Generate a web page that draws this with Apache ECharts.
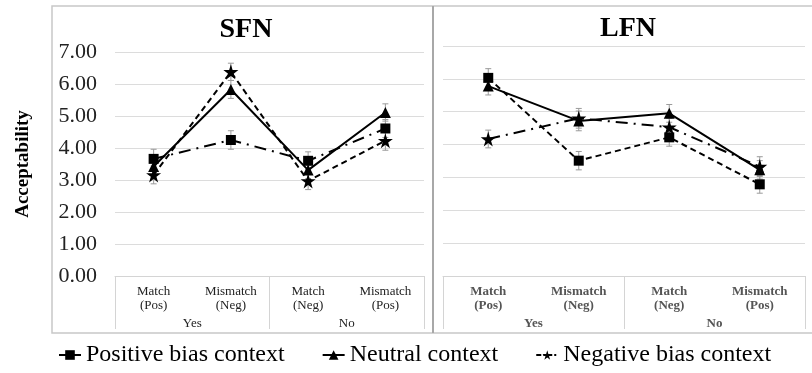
<!DOCTYPE html>
<html>
<head>
<meta charset="utf-8">
<script src="https://cdn.jsdelivr.net/npm/echarts@6/dist/echarts.min.js"></script>
<style>html,body{margin:0;padding:0;background:#fff}#c{width:812px;height:373px}</style>
</head>
<body>
<div id="c"></div>
<script>
const categories = ['Match\n(Pos)', 'Mismatch\n(Neg)', 'Match\n(Neg)', 'Mismatch\n(Pos)'];
const groups = ['Yes', 'No'];
const panelTitles = ['SFN', 'LFN'];
const seriesNames = ['Positive bias context', 'Neutral context', 'Negative bias context'];
const yMin = 0, yMax = 7, yInterval = 1;

const sfnPositive = [3.66, 4.25, 3.60, 4.61];
const sfnNeutral  = [3.42, 5.83, 3.31, 5.11];
const sfnNegative = [3.16, 6.38, 2.97, 4.23];
const lfnPositive = [6.03, 3.51, 4.22, 2.79];
const lfnNeutral  = [5.78, 4.72, 4.95, 3.23];
const lfnNegative = [4.17, 4.80, 4.53, 3.33];

const sfnPositiveErr = [0.30, 0.29, 0.28, 0.28];
const sfnNeutralErr  = [0.28, 0.28, 0.27, 0.27];
const sfnNegativeErr = [0.28, 0.27, 0.27, 0.30];
const lfnPositiveErr = [0.28, 0.28, 0.27, 0.27];
const lfnNeutralErr  = [0.27, 0.30, 0.27, 0.28];
const lfnNegativeErr = [0.27, 0.30, 0.27, 0.30];

const FONT = 'Liberation Serif';
const STAR = 'path://M50,0 L61,35 L98,35 L68,57 L79,91 L50,70 L21,91 L32,57 L2,35 L39,35 Z';
const DASH = [6, 4];
const DASHDOT = [12, 6, 2, 6];

function lineSeries(name, data, gi, symbol, size, type) {
  return {
    type: 'line', name, data, xAxisIndex: gi * 2, yAxisIndex: gi,
    symbol, symbolSize: size, showSymbol: true,
    itemStyle: { color: '#000' },
    lineStyle: { color: '#000', width: 2, type },
    z: 5, animation: false
  };
}
function errSeries(name, vals, errs, gi) {
  return {
    type: 'custom', name, xAxisIndex: gi * 2, yAxisIndex: gi, z: 2, silent: true,
    itemStyle: { color: '#000' },
    data: vals.map((v, i) => [i, v, errs[i]]),
    renderItem: function (params, api) {
      const x = api.value(0), v = api.value(1), e = api.value(2);
      const top = api.coord([x, v + e]);
      const bot = api.coord([x, v - e]);
      const st = { stroke: '#9a9a9a', lineWidth: 1 };
      return { type: 'group', children: [
        { type: 'line', shape: { x1: top[0], y1: top[1], x2: bot[0], y2: bot[1] }, style: st },
        { type: 'line', shape: { x1: top[0] - 3, y1: top[1], x2: top[0] + 3, y2: top[1] }, style: st },
        { type: 'line', shape: { x1: bot[0] - 3, y1: bot[1], x2: bot[0] + 3, y2: bot[1] }, style: st }
      ]};
    },
    animation: false
  };
}

const grids = [
  { left: 115, top: 52, width: 309, height: 224 },
  { left: 443, top: 46, width: 362, height: 230 }
];

const xAxes = [];
const yAxes = [];
[0, 1].forEach(gi => {
  const bold = gi === 1;
  xAxes.push({
    type: 'category', gridIndex: gi, data: categories, boundaryGap: true,
    axisLine: { show: true, lineStyle: { color: '#d4d4d4', width: 1 } },
    axisTick: { show: false },
    axisLabel: { margin: 9, fontFamily: FONT, fontSize: 13, lineHeight: 14,
      color: bold ? '#555' : '#222', fontWeight: bold ? 'bold' : 'normal' }
  });
  xAxes.push({
    type: 'category', gridIndex: gi, data: groups, boundaryGap: true, position: 'bottom',
    axisLine: { show: false },
    axisTick: { show: true, length: 53, lineStyle: { color: '#d4d4d4', width: 1 } },
    axisLabel: { margin: 41, fontFamily: FONT, fontSize: 13,
      color: bold ? '#555' : '#222', fontWeight: bold ? 'bold' : 'normal' }
  });
  yAxes.push({
    type: 'value', gridIndex: gi, min: yMin, max: yMax, interval: yInterval,
    axisLine: { show: false }, axisTick: { show: false },
    splitLine: { lineStyle: { color: '#dcdcdc', width: 1 } },
    axisLabel: { show: gi === 0, margin: 18, fontFamily: FONT, fontSize: 22, color: '#222',
      formatter: v => v.toFixed(2) },
    name: gi === 0 ? 'Acceptability' : '', nameLocation: 'middle', nameGap: 82,
    nameTextStyle: { fontFamily: FONT, fontSize: 19, fontWeight: 'bold', color: '#000' }
  });
});

const option = {
  backgroundColor: '#fff',
  animation: false,
  title: [
    { text: panelTitles[0], left: 241, top: 11, textAlign: 'center',
      textStyle: { fontFamily: FONT, fontSize: 28, fontWeight: 'bold', color: '#000' } },
    { text: panelTitles[1], left: 623, top: 10, textAlign: 'center',
      textStyle: { fontFamily: FONT, fontSize: 28, fontWeight: 'bold', color: '#000' } }
  ],
  grid: grids,
  xAxis: xAxes,
  yAxis: yAxes,
  legend: {
    bottom: 1, left: 53, itemWidth: 22, itemHeight: 12, itemGap: 37,
    textStyle: { fontFamily: FONT, fontSize: 24, color: '#000' },
    data: [
      { name: seriesNames[0], lineStyle: { type: 'solid' } },
      { name: seriesNames[1] },
      { name: seriesNames[2], lineStyle: { type: [5, 2, 2, 2] } }
    ]
  },
  graphic: [
    { type: 'rect', shape: { x: 52, y: 6, width: 770, height: 327 },
      style: { fill: 'none', stroke: '#c8c8c8', lineWidth: 1.5 }, z: 0 },
    { type: 'line', shape: { x1: 433, y1: 6, x2: 433, y2: 333 },
      style: { stroke: '#a8a8a8', lineWidth: 2 }, z: 0 }
  ],
  series: [
    lineSeries(seriesNames[0], sfnPositive, 0, 'rect', 10, DASHDOT),
    lineSeries(seriesNames[1], sfnNeutral, 0, 'triangle', 11, 'solid'),
    lineSeries(seriesNames[2], sfnNegative, 0, STAR, 15, DASH),
    lineSeries(seriesNames[0], lfnPositive, 1, 'rect', 10, DASH),
    lineSeries(seriesNames[1], lfnNeutral, 1, 'triangle', 11, 'solid'),
    lineSeries(seriesNames[2], lfnNegative, 1, STAR, 15, DASHDOT),
    errSeries(seriesNames[0], sfnPositive, sfnPositiveErr, 0),
    errSeries(seriesNames[1], sfnNeutral, sfnNeutralErr, 0),
    errSeries(seriesNames[2], sfnNegative, sfnNegativeErr, 0),
    errSeries(seriesNames[0], lfnPositive, lfnPositiveErr, 1),
    errSeries(seriesNames[1], lfnNeutral, lfnNeutralErr, 1),
    errSeries(seriesNames[2], lfnNegative, lfnNegativeErr, 1)
  ]
};

const chart = echarts.init(document.getElementById('c'), null, { renderer: 'canvas' });
chart.setOption(option);
</script>
</body>
</html>
